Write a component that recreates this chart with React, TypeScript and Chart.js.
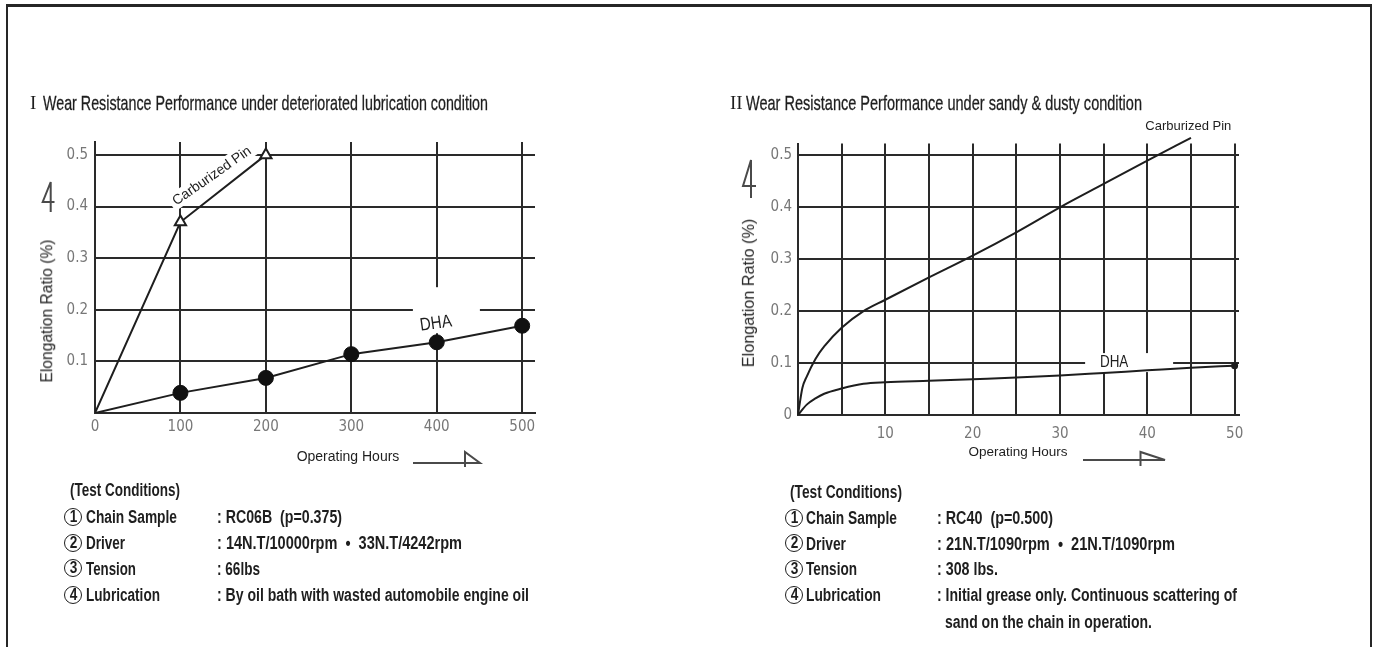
import React, { useEffect, useLayoutEffect, useRef } from "react";
import { Chart, registerables } from "chart.js";
Chart.register(...registerables);

const SANS = '"Liberation Sans", Arial, Helvetica, sans-serif';
const NARROW = '"Liberation Sans Narrow", "DejaVu Sans Condensed", "Arial Narrow", sans-serif';
const SERIF = '"Liberation Serif", "Times New Roman", serif';
const INK = "#1e1e1e";
const GRID = "#2a2a2a";
const TICK = "#777777";

// ---------- Chart I : deteriorated lubrication ----------
const hoursI = [0, 100, 200, 300, 400, 500];
const dhaI = [0, 0.039, 0.068, 0.114, 0.137, 0.169];
const carbHoursI = [0, 100, 200];
const carbPinI = [0, 0.37, 0.5];
const xTicksI = [0, 100, 200, 300, 400, 500];
const yTicksI = [0, 0.1, 0.2, 0.3, 0.4, 0.5];

// ---------- Chart II : sandy & dusty ----------
const carbHoursII = [0, 0.5, 1, 2, 3, 5, 7.5, 10, 15, 20, 25, 30, 35, 40, 45];
const carbPinII = [0, 0.052, 0.074, 0.108, 0.132, 0.168, 0.2, 0.222, 0.265, 0.307, 0.352, 0.4, 0.445, 0.49, 0.534];
const dhaHoursII = [0, 1, 2, 3, 5, 7.5, 10, 15, 20, 25, 30, 35, 40, 45, 50];
const dhaII = [0, 0.02, 0.032, 0.041, 0.051, 0.06, 0.063, 0.066, 0.069, 0.072, 0.076, 0.081, 0.086, 0.091, 0.095];
const xTicksII = [0, 5, 10, 15, 20, 25, 30, 35, 40, 45, 50];
const yTicksII = [0, 0.1, 0.2, 0.3, 0.4, 0.5];

// ---------- Texts ----------
const titleI = "Wear Resistance Performance under deteriorated lubrication condition";
const titleII = "Wear Resistance Performance under sandy & dusty condition";
const yTitle = "Elongation Ratio (%)";
const xTitle = "Operating Hours";
const condHeader = "(Test Conditions)";
const condLabels = ["Chain Sample", "Driver", "Tension", "Lubrication"];
const condValuesI = [": RC06B  (p=0.375)", ": 14N.T/10000rpm  \u2022  33N.T/4242rpm", ": 66lbs", ": By oil bath with wasted automobile engine oil"];
const condValuesII = [": RC40  (p=0.500)", ": 21N.T/1090rpm  \u2022  21N.T/1090rpm", ": 308 lbs.", ": Initial grease only. Continuous scattering of", "sand on the chain in operation."];

type Note = {
  text: string; x: number; y: number; angle: number; size: number; sx: number;
  box?: [number, number, number, number]; boxAngle?: number;
};

function notesPlugin(notes: Note[]) {
  return {
    id: "notes",
    beforeDatasetsDraw(chart: any) {
      const { ctx } = chart;
      const xs = chart.scales.x, ys = chart.scales.y;
      notes.forEach((n) => {
        if (!n.box) return;
        ctx.save();
        ctx.translate(xs.getPixelForValue(n.x), ys.getPixelForValue(n.y));
        ctx.rotate(((n.boxAngle ?? 0) * Math.PI) / 180);
        ctx.fillStyle = "#ffffff";
        ctx.fillRect(n.box[0], n.box[1], n.box[2], n.box[3]);
        ctx.restore();
      });
    },
    afterDatasetsDraw(chart: any) {
      const { ctx } = chart;
      const xs = chart.scales.x, ys = chart.scales.y;
      notes.forEach((n) => {
        ctx.save();
        ctx.translate(xs.getPixelForValue(n.x), ys.getPixelForValue(n.y));
        ctx.rotate((n.angle * Math.PI) / 180);
        ctx.scale(n.sx, 1);
        ctx.font = `${n.size}px ${SANS}`;
        ctx.fillStyle = INK;
        ctx.textAlign = "center";
        ctx.textBaseline = "middle";
        ctx.fillText(n.text, 0, 0);
        ctx.restore();
      });
    },
  };
}

function axis(min: number, max: number, ticks: number[], fit: (s: any) => void, label: (v: number) => string, pad: number) {
  return {
    type: "linear" as const,
    min, max,
    afterBuildTicks: (s: any) => { s.ticks = ticks.map((v) => ({ value: v })); },
    afterFit: fit,
    grid: { color: GRID, lineWidth: 2, drawTicks: false },
    border: { color: GRID, width: 2 },
    ticks: {
      padding: pad, color: TICK, autoSkip: false, maxRotation: 0,
      font: { family: NARROW, size: 15 },
      callback: (v: any) => label(Number(v)),
    },
  };
}

function configI() {
  return {
    type: "line" as const,
    data: {
      datasets: [
        {
          label: "Carburized Pin",
          data: carbHoursI.map((h, i) => ({ x: h, y: carbPinI[i] })),
          borderColor: INK, borderWidth: 2, tension: 0,
          pointStyle: "triangle",
          pointRadius: (c: any) => (c.dataIndex === 0 ? 0 : 6.5),
          pointBackgroundColor: "#ffffff", pointBorderColor: INK, pointBorderWidth: 2,
        },
        {
          label: "DHA",
          data: hoursI.map((h, i) => ({ x: h, y: dhaI[i] })),
          borderColor: INK, borderWidth: 2, tension: 0,
          pointStyle: "circle",
          pointRadius: (c: any) => (c.dataIndex === 0 ? 0 : 7.5),
          pointBackgroundColor: "#111111", pointBorderColor: "#111111", pointBorderWidth: 1,
        },
      ],
    },
    options: {
      animation: false as const, responsive: false,
      layout: { padding: { left: 0, top: 42, right: 25, bottom: 17 } },
      plugins: { legend: { display: false }, tooltip: { enabled: false } },
      scales: {
        x: axis(0, 515, xTicksI, (s: any) => { s.height = 30; }, (v) => String(v), 5),
        y: axis(0, 0.525, yTicksI, (s: any) => { s.width = 95; }, (v) => (v === 0 ? "" : v.toFixed(1)), 7),
      },
    },
    plugins: [
      notesPlugin([
        { text: "Carburized Pin", x: 137, y: 0.459, angle: -35, size: 14, sx: 1, box: [-50, -9, 100, 17], boxAngle: -35 },
        { text: "DHA", x: 399, y: 0.173, angle: -8, size: 18, sx: 0.84, box: [-23, -36.5, 67, 46] },
      ]),
    ],
  };
}

function configII() {
  return {
    type: "line" as const,
    data: {
      datasets: [
        {
          label: "Carburized Pin",
          data: carbHoursII.map((h, i) => ({ x: h, y: carbPinII[i] })),
          borderColor: INK, borderWidth: 2, tension: 0.4, cubicInterpolationMode: "monotone" as const,
          pointRadius: 0, clip: false as const,
        },
        {
          label: "DHA",
          data: dhaHoursII.map((h, i) => ({ x: h, y: dhaII[i] })),
          borderColor: INK, borderWidth: 2, tension: 0.4, cubicInterpolationMode: "monotone" as const,
          pointRadius: (c: any) => (c.dataIndex === dhaHoursII.length - 1 ? 2.5 : 0),
          pointBackgroundColor: INK, pointBorderColor: INK,
        },
      ],
    },
    options: {
      animation: false as const, responsive: false,
      layout: { padding: { left: 0, top: 43.5, right: 41, bottom: 15 } },
      plugins: { legend: { display: false }, tooltip: { enabled: false } },
      scales: {
        x: axis(0, 50.5, xTicksII, (s: any) => { s.height = 30; }, (v) => (v !== 0 && v % 10 === 0 ? String(v) : ""), 10),
        y: axis(0, 0.523, yTicksII, (s: any) => { s.width = 98; }, (v) => (v === 0 ? "0" : v.toFixed(1)), 6),
      },
    },
    plugins: [
      notesPlugin([
        { text: "Carburized Pin", x: 44.7, y: 0.555, angle: 0, size: 13, sx: 1 },
        { text: "DHA", x: 36.2, y: 0.1, angle: 0, size: 16, sx: 0.84, box: [-29, -10, 88, 19] },
      ]),
    ],
  };
}

function ChartCanvas({ make, left, top, width, height }: any) {
  const ref = useRef<HTMLCanvasElement>(null);
  useEffect(() => {
    const chart = new Chart(ref.current as HTMLCanvasElement, make());
    return () => chart.destroy();
  }, []);
  return (
    <canvas ref={ref} width={width} height={height}
      style={{ position: "absolute", left, top, width, height }} />
  );
}

function Fit({ x, cy, w, size, bold, children, family, stroke }: any) {
  const ref = useRef<HTMLSpanElement>(null);
  useLayoutEffect(() => {
    const el = ref.current;
    if (!el) return;
    el.style.transform = "none";
    const nat = el.getBoundingClientRect().width;
    if (nat > 0) el.style.transform = `scaleX(${w / nat})`;
  }, [w]);
  return (
    <span ref={ref} style={{
      position: "absolute", left: x, top: cy - size / 2, fontSize: size, lineHeight: `${size}px`,
      fontFamily: family || SANS, fontWeight: bold ? 700 : 400, whiteSpace: "pre", color: INK,
      transformOrigin: "0 0", WebkitTextStroke: stroke ? `${stroke}px ${INK}` : undefined,
    }}>{children}</span>
  );
}

function Circled({ x, cy, n }: any) {
  return (
    <span style={{
      position: "absolute", left: x, top: cy - 9.5, width: 16, height: 16, border: `1.5px solid ${INK}`,
      borderRadius: "50%", display: "flex", alignItems: "center", justifyContent: "center",
      fontFamily: SANS, fontWeight: 700, fontSize: 16, color: INK, lineHeight: "16px",
    }}><span style={{ transform: "scaleX(0.85)" }}>{n}</span></span>
  );
}

function Rot({ cx, cy, size, children }: any) {
  return (
    <span style={{
      position: "absolute", left: cx, top: cy, transform: "translate(-50%, -50%) rotate(-90deg)",
      fontFamily: SANS, fontSize: size, whiteSpace: "nowrap", color: INK, lineHeight: `${size}px`,
    }}>{children}</span>
  );
}

function Center({ cx, cy, size, children }: any) {
  return (
    <span style={{
      position: "absolute", left: cx, top: cy, transform: "translate(-50%, -50%)",
      fontFamily: SANS, fontSize: size, whiteSpace: "nowrap", color: INK, lineHeight: `${size}px`,
    }}>{children}</span>
  );
}

const rowsI = [517, 543, 568.5, 595];
const rowsII = [518, 543.5, 569, 595, 622];
const labelW_I = [91, 39, 50, 74];
const valueW_I = [125, 245, 43, 312];
const labelW_II = [91, 40, 51, 75];
const valueW_II = [116, 238, 61, 300, 207];

export default function App() {
  return (
    <div style={{ position: "fixed", left: 0, top: 0, width: 1374, height: 647, background: "#fff", overflow: "hidden" }}>
      <div style={{
        position: "absolute", left: 6, top: 4, width: 1362, height: 700,
        borderTop: "3px solid #262626", borderLeft: "2px solid #262626", borderRight: "2px solid #262626",
      }} />

      <ChartCanvas make={configI} left={0} top={100} width={560} height={360} />
      <ChartCanvas make={configII} left={700} top={100} width={580} height={360} />

      {/* titles */}
      <span style={{ position: "absolute", left: 30, top: 92, fontFamily: SERIF, fontSize: 19, lineHeight: "21px", color: INK }}>I</span>
      <Fit x={43} cy={102} w={445} size={21} stroke={0.3}>{titleI}</Fit>
      <span style={{ position: "absolute", left: 730, top: 92, fontFamily: SERIF, fontSize: 19, lineHeight: "21px", color: INK }}>II</span>
      <Fit x={746} cy={102} w={396} size={21} stroke={0.3}>{titleII}</Fit>

      {/* axis titles */}
      <Rot cx={47} cy={311} size={15.6}>{yTitle}</Rot>
      <Rot cx={748} cy={293} size={16.2}>{yTitle}</Rot>
      <Center cx={348} cy={456} size={14}>{xTitle}</Center>
      <Center cx={1018} cy={452} size={13.5}>{xTitle}</Center>

      {/* hand-drawn direction arrows */}
      <svg width={1374} height={647} style={{ position: "absolute", left: 0, top: 0, pointerEvents: "none" }}>
        <g fill="none" stroke="#4a4a4a" strokeWidth={2} strokeLinejoin="miter">
          <path d="M50.7 212 L50.7 182 L42.7 202 L54.5 202" />
          <path d="M751 198 L751 160 L743 186 L756 186" />
          <path d="M413 463 L480 463 L465 452 L465 467" />
          <path d="M1083 460 L1165 460 L1140.5 452 L1140.5 466" />
        </g>
      </svg>

      {/* test conditions I */}
      <Fit x={70} cy={490} w={110} size={18} bold>{condHeader}</Fit>
      {condLabels.map((t, i) => (
        <React.Fragment key={"a" + i}>
          <Circled x={64} cy={rowsI[i]} n={i + 1} />
          <Fit x={86} cy={rowsI[i]} w={labelW_I[i]} size={18} bold>{t}</Fit>
          <Fit x={217} cy={rowsI[i]} w={valueW_I[i]} size={18} bold>{condValuesI[i]}</Fit>
        </React.Fragment>
      ))}

      {/* test conditions II */}
      <Fit x={790} cy={492} w={112} size={18} bold>{condHeader}</Fit>
      {condLabels.map((t, i) => (
        <React.Fragment key={"b" + i}>
          <Circled x={785} cy={rowsII[i]} n={i + 1} />
          <Fit x={806} cy={rowsII[i]} w={labelW_II[i]} size={18} bold>{t}</Fit>
        </React.Fragment>
      ))}
      {condValuesII.map((t, i) => (
        <Fit key={"c" + i} x={i < 4 ? 937 : 945} cy={rowsII[i]} w={valueW_II[i]} size={18} bold>{t}</Fit>
      ))}
    </div>
  );
}
